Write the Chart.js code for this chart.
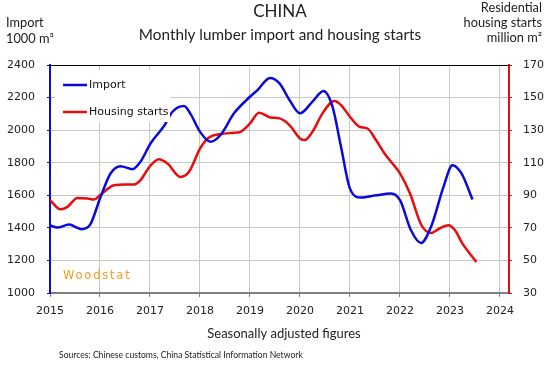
<!DOCTYPE html>
<html>
<head>
<meta charset="utf-8">
<script src="https://cdn.jsdelivr.net/npm/chart.js@4"></script>
<style>
  body { margin: 0; background: #fff; }
</style>
</head>
<body>
<canvas id="myChart" width="560" height="370"></canvas>
<script>
// Data (decimal years)
const years = [2015, 2016, 2017, 2018, 2019, 2020, 2021, 2022, 2023, 2024];
const leftTicks = [1000, 1200, 1400, 1600, 1800, 2000, 2200, 2400];
const rightTicks = [30, 50, 70, 90, 110, 130, 150, 170];

const importDates = [2015.0, 2015.15, 2015.38, 2015.63, 2015.8, 2016.0, 2016.21, 2016.41, 2016.65, 2016.81,
  2017.01, 2017.28, 2017.45, 2017.68, 2017.81, 2018.0, 2018.21, 2018.41, 2018.68, 2019.0,
  2019.15, 2019.4, 2019.59, 2019.79, 2020.0, 2020.25, 2020.47, 2020.65, 2020.82, 2021.0,
  2021.22, 2021.52, 2021.82, 2022.0, 2022.22, 2022.42, 2022.62, 2022.87, 2023.05, 2023.23, 2023.45];
const importValues = [1415, 1402, 1420, 1392, 1418, 1580, 1734, 1779, 1760, 1806,
  1918, 2025, 2113, 2148, 2100, 1990, 1928, 1970, 2103, 2205,
  2246, 2320, 2287, 2185, 2103, 2175, 2240, 2144, 1898, 1641,
  1586, 1600, 1611, 1570, 1385, 1307, 1406, 1652, 1785, 1734, 1574];

const startsDates = [2015.0, 2015.21, 2015.35, 2015.55, 2015.75, 2015.88, 2016.0, 2016.28, 2016.51, 2016.68,
  2016.81, 2017.0, 2017.18, 2017.35, 2017.61, 2017.78, 2018.0, 2018.18, 2018.41, 2018.68,
  2018.81, 2019.0, 2019.18, 2019.41, 2019.59, 2019.79, 2020.0, 2020.09, 2020.25, 2020.45,
  2020.69, 2020.82, 2021.0, 2021.19, 2021.35, 2021.52, 2021.69, 2021.85, 2022.0, 2022.2,
  2022.43, 2022.62, 2022.79, 2022.97, 2023.1, 2023.25, 2023.53];
const startsValues = [87, 81.4, 82.9, 88.4, 88, 87.4, 90, 96.2, 96.6, 96.6,
  99.3, 107.9, 112.2, 109.5, 101.3, 104.4, 118.7, 125.5, 127.6, 128.4,
  129, 134.1, 140.7, 137.8, 137.2, 133.1, 124.9, 123.9, 129, 140.3,
  147.9, 145.4, 138.2, 132.1, 131, 123.9, 115.7, 109.5, 103.4, 91.1,
  71.6, 66.9, 69.6, 71.6, 68.5, 60.3, 49];

const BLUE = '#0a0adc';
const RED = '#e80c0c';
const GRID = '#c8c8c8';
const TICKFONT = { family: 'DejaVu Sans', size: 11 };

function pairs(xs, ys) {
  return xs.map((x, i) => ({ x: x, y: ys[i] }));
}

// Texts, legend and logo
const decor = {
  id: 'decor',
  afterDatasetsDraw(chart) {
    const ctx = chart.ctx;
    const a = chart.chartArea;
    ctx.save();
    // top border
    ctx.strokeStyle = '#000';
    ctx.lineWidth = 1;
    ctx.beginPath();
    ctx.moveTo(a.left, a.top + 0.5);
    ctx.lineTo(a.right, a.top + 0.5);
    ctx.stroke();

    // legend box
    ctx.fillStyle = '#fff';
    ctx.fillRect(55, 70, 115, 52);
    ctx.lineWidth = 2.5;
    ctx.strokeStyle = BLUE;
    ctx.beginPath(); ctx.moveTo(63, 85); ctx.lineTo(87, 85); ctx.stroke();
    ctx.strokeStyle = RED;
    ctx.beginPath(); ctx.moveTo(63, 112); ctx.lineTo(87, 112); ctx.stroke();
    ctx.fillStyle = '#111';
    ctx.font = '11px "DejaVu Sans"';
    ctx.textBaseline = 'middle';
    ctx.textAlign = 'left';
    ctx.fillText('Import', 89, 85);
    ctx.fillText('Housing starts', 89, 112);

    // logo
    ctx.fillStyle = '#f39c1e';
    ctx.font = '11.5px "DejaVu Sans"';
    ctx.letterSpacing = '1.8px';
    ctx.fillText('Woodstat', 63, 276);
    ctx.letterSpacing = '0px';
    ctx.restore();
  },
  afterDraw(chart) {
    const ctx = chart.ctx;
    ctx.save();
    ctx.fillStyle = '#222';
    ctx.textBaseline = 'middle';
    ctx.textAlign = 'center';
    ctx.font = '17px Lato';
    ctx.fillText('CHINA', 280, 12);
    ctx.font = '15.3px Lato';
    ctx.fillText('Monthly lumber import and housing starts', 280, 35);
    ctx.font = '13px Lato';
    ctx.fillText('Seasonally adjusted figures', 284, 334);

    ctx.font = '12.8px Lato';
    ctx.textAlign = 'left';
    ctx.fillText('Import', 6, 23);
    ctx.fillText('1000 m³', 6, 39);
    ctx.textAlign = 'right';
    ctx.fillText('Residential', 542, 8);
    ctx.fillText('housing starts', 542, 23);
    ctx.fillText('million m²', 542, 38);

    ctx.textAlign = 'left';
    ctx.font = '8.6px Lato';
    ctx.fillText('Sources: Chinese customs, China Statistical Information Network', 59, 355);
    ctx.restore();
  }
};

const config = {
  type: 'line',
  data: {
    datasets: [{
      label: 'Import',
      data: pairs(importDates, importValues),
      borderColor: BLUE,
      backgroundColor: BLUE,
      borderWidth: 2.5,
      pointRadius: 0,
      cubicInterpolationMode: 'monotone',
      yAxisID: 'y'
    }, {
      label: 'Housing starts',
      data: pairs(startsDates, startsValues),
      borderColor: RED,
      backgroundColor: RED,
      borderWidth: 2.5,
      pointRadius: 0,
      cubicInterpolationMode: 'monotone',
      yAxisID: 'y2'
    }]
  },
  options: {
    responsive: false,
    animation: false,
    layout: { padding: { top: 65, left: 0, right: 0, bottom: 0 } },
    plugins: {
      legend: { display: false },
      tooltip: { enabled: false }
    },
    scales: {
      x: {
        type: 'linear',
        min: 2015,
        max: 2024.18,
        afterBuildTicks: (s) => { s.ticks = years.map(v => ({ value: v })); },
        afterFit: (s) => { s.height = 77; },
        ticks: { font: TICKFONT, color: '#222', padding: 8, maxRotation: 0, callback: (v) => String(v) },
        grid: { color: GRID, tickColor: '#808080', tickLength: 4 },
        border: { color: '#808080', width: 2 }
      },
      y: {
        position: 'left',
        min: 1000,
        max: 2400,
        afterBuildTicks: (s) => { s.ticks = leftTicks.map(v => ({ value: v })); },
        afterFit: (s) => { s.width = 50; },
        ticks: { font: TICKFONT, color: '#222', padding: 12, callback: (v) => String(v) },
        grid: { color: GRID, tickColor: BLUE, tickLength: 3 },
        border: { color: BLUE, width: 2 }
      },
      y2: {
        position: 'right',
        min: 30,
        max: 170,
        afterBuildTicks: (s) => { s.ticks = rightTicks.map(v => ({ value: v })); },
        afterFit: (s) => { s.width = 51; },
        ticks: { font: TICKFONT, color: '#222', padding: 11, callback: (v) => String(v) },
        grid: { drawOnChartArea: false, tickColor: RED, tickLength: 3 },
        border: { color: RED, width: 2 }
      }
    }
  },
  plugins: [decor]
};

const myChart = new Chart(document.getElementById('myChart'), config);
</script>
</body>
</html>
